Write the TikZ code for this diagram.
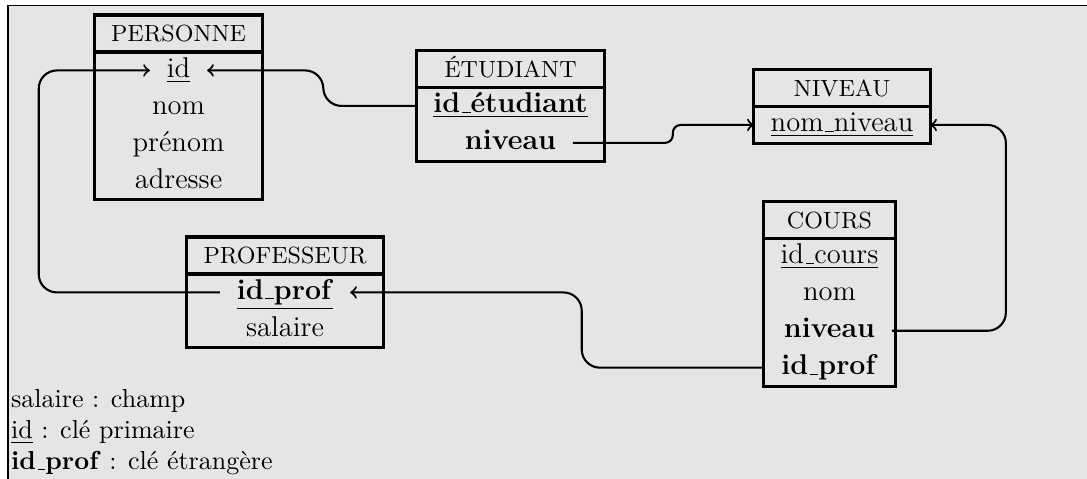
\documentclass[tikz,border=0pt]{standalone}
\usepackage{fontspec}
\usepackage{tikz}
\usetikzlibrary{positioning,fit}

% tiret bas a l'ancienne
\newcommand\tiret{\leavevmode\kern.06em\vbox{\hrule width.3em}}

\tikzset{
  titre/.style={font=\small, inner xsep=6.5pt, inner ysep=4pt, text height=6.2pt, text depth=0pt, outer sep=0pt},
  champ/.style={font=\fontsize{11}{13.6}\selectfont, inner xsep=6.5pt, inner ysep=2.2pt, text height=7.6pt, text depth=2.2pt, outer sep=0pt},
  table/.style={draw, very thick, inner sep=0pt},
  lien/.style={->, thick, rounded corners=7pt},
  legende/.style={align=left, inner sep=1pt, anchor=north west},
}

\begin{document}
\begin{tikzpicture}
    \useasboundingbox (0,0) rectangle (14.694,-6.475);
    % fond
    \fill[black!10] (0.108,-0.068) rectangle (14.694,-6.475);
    \draw (0.108,-6.475) -- (0.108,-0.068) -- (14.694,-0.068);

    % PERSONNE
    \node[titre] (pers) at (2.413,-0.453) {PERSONNE};
    \node[champ, below=0pt of pers] (pers-id) {\underline{id}};
    \node[champ, below=0pt of pers-id] (pers-nom) {nom};
    \node[champ, below=0pt of pers-nom] (pers-pre) {prénom};
    \node[champ, below=0pt of pers-pre] (pers-adr) {adresse};
    \node[table, fit=(pers)(pers-id)(pers-nom)(pers-pre)(pers-adr)] (pers-box) {};
    \draw[very thick] (pers-box.west |- pers.south) -- (pers-box.east |- pers.south);

    % ETUDIANT
    \node[titre] (etu) at (6.901,-0.933) {ÉTUDIANT};
    \node[champ, below=0pt of etu] (etu-id) {\underline{\textbf{id\tiret étudiant}}};
    \node[champ, below=0pt of etu-id] (etu-niv) {\textbf{niveau}};
    \node[table, fit=(etu)(etu-id)(etu-niv)] (etu-box) {};
    \draw[very thick] (etu-box.west |- etu.south) -- (etu-box.east |- etu.south);

    % NIVEAU
    \node[titre] (niv) at (11.382,-1.190) {NIVEAU};
    \node[champ, below=0pt of niv] (niv-nom) {\underline{nom\tiret niveau}};
    \node[table, fit=(niv)(niv-nom)] (niv-box) {};
    \draw[very thick] (niv-box.west |- niv.south) -- (niv-box.east |- niv.south);

    % COURS
    \node[titre] (cours) at (11.213,-2.974) {COURS};
    \node[champ, below=0pt of cours] (cours-id) {\underline{id\tiret cours}};
    \node[champ, below=0pt of cours-id] (cours-nom) {nom};
    \node[champ, below=0pt of cours-nom] (cours-niv) {\textbf{niveau}};
    \node[champ, below=0pt of cours-niv] (cours-prof) {\textbf{id\tiret prof}};
    \node[table, fit=(cours)(cours-id)(cours-nom)(cours-niv)(cours-prof)] (cours-box) {};
    \draw[very thick] (cours-box.west |- cours.south) -- (cours-box.east |- cours.south);

    % PROFESSEUR
    \node[titre] (prof) at (3.853,-3.454) {PROFESSEUR};
    \node[champ, below=0pt of prof] (prof-id) {\underline{\textbf{id\tiret prof}}};
    \node[champ, below=0pt of prof-id] (prof-sal) {salaire};
    \node[table, fit=(prof)(prof-id)(prof-sal)] (prof-box) {};
    \draw[very thick] (prof-box.west |- prof.south) -- (prof-box.east |- prof.south);

    % liens
    \draw[lien] (etu-id.west) -- ++(-1.26,0) |- (pers-id.east);
    \draw[lien] (prof-id.west) -- ++(-2.45,0) |- (pers-id.west);
    \draw[lien, rounded corners=3pt] (etu-niv.east) -- ++(1.35,0) |- (niv-nom.west);
    \draw[lien] (cours-niv.east) -- ++(1.54,0) |- (niv-nom.east);
    \draw[lien] (cours-prof.west) -- ++(-2.47,0) |- (prof-id.east);

    % legende
    \node[legende] (leg) at (0.108,-5.223) {salaire : champ\\ \underline{id} : clé primaire\\ \textbf{id\tiret prof} : clé étrangère};
\end{tikzpicture}
\end{document}
